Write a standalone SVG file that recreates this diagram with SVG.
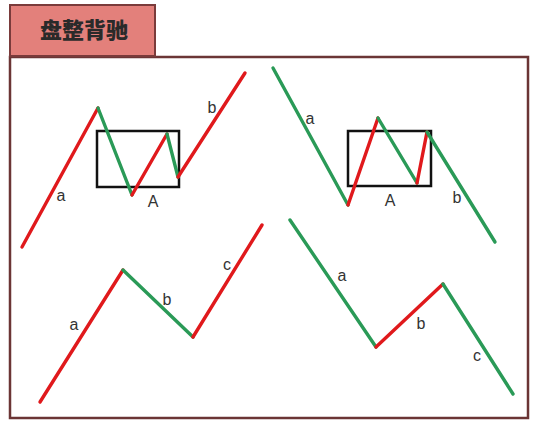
<svg xmlns="http://www.w3.org/2000/svg" width="537" height="423" viewBox="0 0 537 423">
<style>
.r{stroke:#e0191c;stroke-width:3.4;fill:none;stroke-linecap:round;stroke-linejoin:round}
.g{stroke:#2a9a57;stroke-width:3.4;fill:none;stroke-linecap:round;stroke-linejoin:round}
.box{fill:none;stroke:#111;stroke-width:2.5}
.lb{font-family:"Liberation Sans",Arial,sans-serif;font-size:16px;fill:#333;text-anchor:middle}
</style>
<rect width="537" height="423" fill="#ffffff"/>
<g id="frame">
<rect x="10" y="57" width="518" height="361" fill="#ffffff" stroke="#6b3535" stroke-width="2.5"/>
</g>
<g id="title">
<rect x="10" y="5" width="145" height="51" fill="#e3807b" stroke="#7a3b3b" stroke-width="2"/>
<text x="84" y="38" font-family="'Noto Sans CJK SC',sans-serif" font-size="22" font-weight="900" fill="#2a2a2a" text-anchor="middle">盘整背驰</text>
</g>
<g id="connectors">
<g id="panel-tl">
<rect class="box" x="97" y="131" width="82" height="56"/>
<polyline class="r" points="22,247 98,108"/>
<polyline class="g" points="98,108 132,195"/>
<polyline class="r" points="132,195 167,134"/>
<polyline class="g" points="167,134 178,177"/>
<polyline class="r" points="178,177 245,73"/>
</g>
<g id="panel-tr">
<rect class="box" x="348" y="131" width="83" height="55"/>
<polyline class="g" points="273,68 348,205"/>
<polyline class="r" points="348,205 378,118"/>
<polyline class="g" points="378,118 417,183"/>
<polyline class="r" points="417,183 427,132"/>
<polyline class="g" points="427,132 495,242"/>
</g>
<g id="panel-bl">
<polyline class="r" points="40,402 123,270"/>
<polyline class="g" points="123,270 193,337"/>
<polyline class="r" points="193,337 262,225"/>
</g>
<g id="panel-br">
<polyline class="g" points="290,220 376,347"/>
<polyline class="r" points="376,347 443,284"/>
<polyline class="g" points="443,284 513,394"/>
</g>
</g>
<g id="labels">
<text class="lb" x="61" y="201">a</text>
<text class="lb" x="153" y="207">A</text>
<text class="lb" x="212" y="113">b</text>
<text class="lb" x="310" y="124">a</text>
<text class="lb" x="390" y="206">A</text>
<text class="lb" x="457" y="203">b</text>
<text class="lb" x="74" y="330">a</text>
<text class="lb" x="167" y="305">b</text>
<text class="lb" x="227" y="270">c</text>
<text class="lb" x="342" y="281">a</text>
<text class="lb" x="421" y="329">b</text>
<text class="lb" x="477" y="361">c</text>
</g>
</svg>
